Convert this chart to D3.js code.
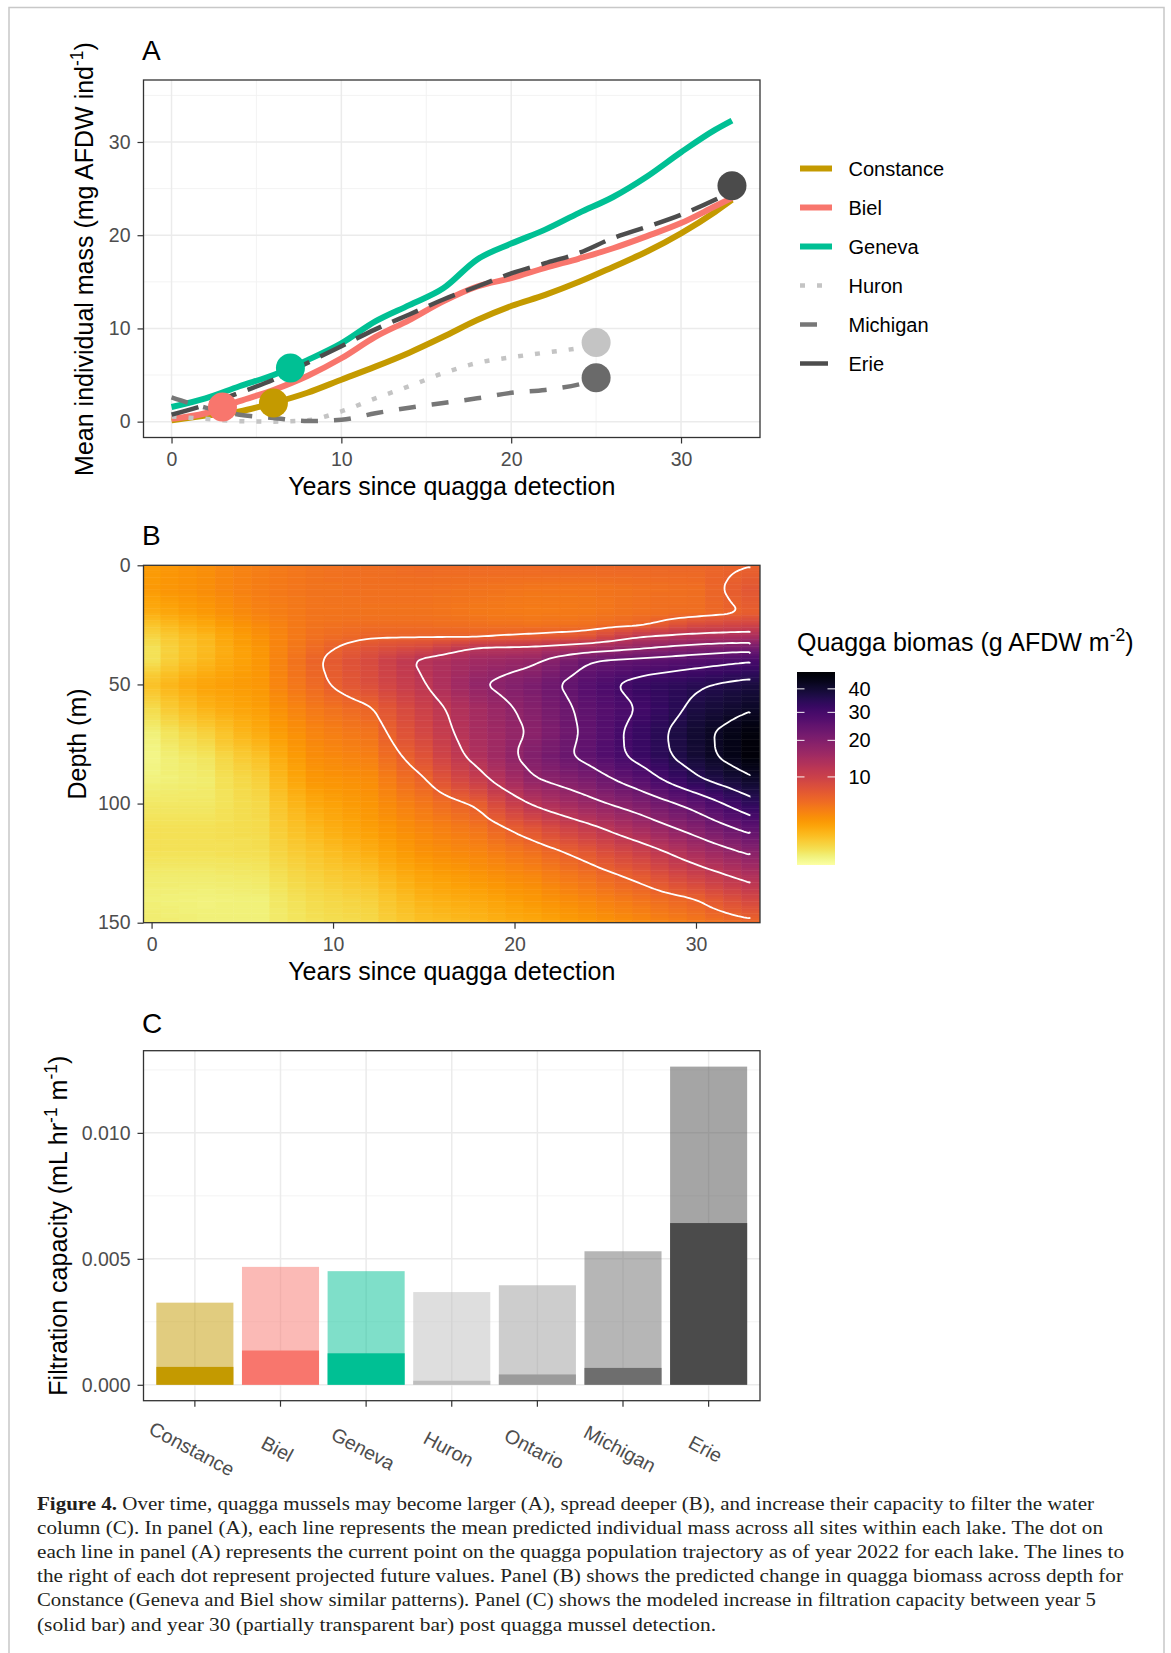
<!DOCTYPE html>
<html>
<head>
<meta charset="utf-8">
<script src="https://cdn.jsdelivr.net/npm/d3@7"></script>
<style>
  body { margin: 0; background: #fff; }
  svg text { font-family: "Liberation Sans", Arial, sans-serif; }
  svg text.cap { font-family: "Liberation Serif", "DejaVu Serif", serif; }
</style>
</head>
<body>
<svg id="fig" width="1171" height="1653"></svg>
<script>
// ---------- panel A : mean individual mass per lake ----------
const lakesA = ['Constance', 'Biel', 'Geneva', 'Huron', 'Michigan', 'Erie']
const yearsLong = [0, 2, 4, 6, 8, 10, 12, 14, 16, 18, 20, 22, 24, 26, 28, 30, 32, 33]
const yearsShort = [0, 2, 4, 6, 8, 10, 12, 14, 16, 18, 20, 22, 24, 25]
const massConstance = [0.15, 0.65, 1.1, 2.0, 3.1, 4.5, 5.9, 7.4, 9.1, 10.9, 12.4, 13.6, 15.0, 16.6, 18.25, 20.2, 22.5, 23.8]
const massBiel = [0.3, 0.9, 2.2, 3.4, 4.9, 6.8, 9.1, 10.9, 12.9, 14.5, 15.4, 16.5, 17.5, 18.6, 19.9, 21.3, 23.1, 24.0]
const massGeneva = [1.57, 2.5, 3.8, 5.0, 6.6, 8.4, 10.75, 12.5, 14.3, 17.4, 19.1, 20.6, 22.4, 24.1, 26.3, 28.9, 31.3, 32.3]
const massHuron = [0.55, 0.3, 0.05, 0, 0.15, 1.1, 2.5, 3.8, 5.2, 6.3, 6.9, 7.4, 7.9, 8.25]
const massMichigan = [2.6, 1.5, 0.75, 0.4, 0.07, 0.2, 0.9, 1.5, 2.0, 2.5, 3.1, 3.4, 4.0, 4.5]
const massErie = [0.75, 1.8, 3.1, 4.5, 6.3, 8.1, 9.9, 11.5, 13.1, 14.5, 15.9, 17.0, 18.1, 19.7, 20.9, 22.2, 23.8, 24.7]
// the dot = where each lake is in 2022
const nowYear = [6, 3, 7, 25, 25, 33]
const nowMass = [2.0, 1.57, 5.75, 8.5, 4.7, 25.3]

// ---------- panel B : biomass by depth (Constance) ----------
const bioYears = [0, 3, 6, 9, 12, 15, 18, 21, 24, 27, 30, 33]
const bioDepths = [0, 10, 20, 25, 30, 35, 40, 50, 60, 70, 80, 90, 100, 110, 120, 130, 140, 150]
// one row per year in bioYears, one value per depth in bioDepths (g AFDW m-2)
const biomass = [
  [2.3, 2.4, 1.6, 0.9, 0.5, 0.3, 0.3, 1.0, 0.4, 0.1, 0.05, 0.08, 0.2, 0.3, 0.3, 0.15, 0.1, 0.15],
  [3.0, 3.0, 2.4, 1.8, 1.3, 1.2, 1.3, 2.0, 1.4, 0.6, 0.25, 0.15, 0.2, 0.3, 0.3, 0.15, 0.08, 0.1],
  [4.0, 4.0, 3.6, 3.2, 2.8, 2.6, 2.5, 2.5, 2.2, 1.7, 1.0, 0.6, 0.45, 0.4, 0.35, 0.2, 0.1, 0.1],
  [4.6, 4.6, 4.5, 4.6, 4.8, 5.2, 5.7, 5.3, 4.2, 3.5, 3.0, 2.5, 1.8, 1.3, 0.9, 0.6, 0.4, 0.3],
  [5.0, 4.8, 4.6, 5.0, 5.8, 7.5, 8.5, 8.0, 5.7, 4.6, 3.8, 3.0, 2.6, 2.2, 1.6, 1.0, 0.6, 0.45],
  [5.3, 4.8, 4.6, 5.0, 5.9, 9.0, 12.8, 11.8, 10.0, 9.0, 7.5, 5.8, 4.3, 3.4, 2.8, 2.0, 1.4, 1.0],
  [5.3, 4.6, 4.2, 4.8, 6.0, 12.5, 15.5, 17.5, 15.0, 14.5, 13.5, 10.5, 6.4, 4.6, 3.5, 2.6, 1.8, 1.3],
  [5.4, 4.4, 4.0, 4.6, 6.5, 13.0, 17.0, 21.0, 19.5, 18.5, 20.0, 17.5, 12.4, 7.4, 4.8, 3.4, 2.5, 1.8],
  [5.5, 4.4, 4.2, 4.8, 7.2, 15.5, 23.5, 27.0, 25.5, 25.0, 25.5, 21.0, 16.5, 11.0, 7.0, 4.8, 3.4, 2.4],
  [5.6, 4.7, 4.8, 5.7, 12.0, 18.0, 25.5, 32.5, 30.5, 32.5, 32.0, 27.0, 20.5, 15.2, 10.2, 6.8, 4.6, 3.2],
  [5.6, 5.0, 5.0, 8.3, 13.5, 20.5, 27.5, 35.2, 37.5, 40.0, 39.5, 35.0, 26.0, 20.0, 14.5, 10.0, 6.0, 4.2],
  [5.95, 7.0, 6.2, 9.5, 14.0, 22.5, 29.5, 38.0, 41.5, 46.0, 46.5, 41.0, 34.0, 26.0, 19.0, 13.5, 9.0, 5.4]
]
const contourLevels = [6, 12, 18, 24, 30, 36, 42]
const bioTicks = [10, 20, 30, 40]

// ---------- panel C : filtration capacity ----------
const lakesC = ['Constance', 'Biel', 'Geneva', 'Huron', 'Ontario', 'Michigan', 'Erie']
const filtYear5 = [0.00071, 0.00136, 0.00125, 0.00016, 0.00041, 0.00067, 0.00642]
const filtYear30 = [0.00326, 0.00468, 0.00451, 0.00368, 0.00395, 0.0053, 0.01263]

const captionLines = [
  'Over time, quagga mussels may become larger (A), spread deeper (B), and increase their capacity to filter the water',
  'column (C). In panel (A), each line represents the mean predicted individual mass across all sites within each lake. The dot on',
  'each line in panel (A) represents the current point on the quagga population trajectory as of year 2022 for each lake. The lines to',
  'the right of each dot represent projected future values. Panel (B) shows the predicted change in quagga biomass across depth for',
  'Constance (Geneva and Biel show similar patterns). Panel (C) shows the modeled increase in filtration capacity between year 5',
  '(solid bar) and year 30 (partially transparent bar) post quagga mussel detection.'
]

const svg = d3.select('#fig')
svg.append('rect').attr('width', 1171).attr('height', 1653).attr('fill', '#fff')
svg.append('path')
  .attr('d', 'M9,1653 V7.5 H1164 V1653')
  .attr('fill', 'none').attr('stroke', '#c8c8c8').attr('stroke-width', 1.5)

const L = 143.5, R = 760
const gridCol = '#ebebeb'
const tickFont = 19.5

function styleAxis(g) {
  g.select('.domain').remove()
  g.attr('font-size', tickFont).attr('font-family', null)
  g.selectAll('.tick line').attr('stroke', '#333').attr('stroke-width', 1.2)
  g.selectAll('.tick text').attr('fill', '#4d4d4d')
}

// text with superscripts: parts like ['Mean (mg ind', '^-1', ')']
function richText(sel, parts, size) {
  let up = false
  parts.forEach(p => {
    if (p[0] === '^') {
      sel.append('tspan').attr('font-size', size * 0.7).attr('dy', -size * 0.42).text(p.slice(1))
      up = true
    } else {
      sel.append('tspan').attr('dy', up ? size * 0.42 : 0).text(p)
      up = false
    }
  })
}

function panelLabel(txt, y) {
  svg.append('text').attr('x', 142).attr('y', y).attr('font-size', 28).text(txt)
}

// ================= PANEL A =================
const xA = d3.scaleLinear().domain([-1.65, 34.65]).range([L, R])
const yA = d3.scaleLinear().domain([-1.7, 36.65]).range([437.5, 80])
const gA = svg.append('g')

panelLabel('A', 60)

// grid
;[5, 15, 25].forEach(v => gA.append('line').attr('x1', xA(v)).attr('x2', xA(v)).attr('y1', 80).attr('y2', 437.5).attr('stroke', '#f2f2f2').attr('stroke-width', 0.9))
;[5, 15, 25, 35].forEach(v => gA.append('line').attr('x1', L).attr('x2', R).attr('y1', yA(v)).attr('y2', yA(v)).attr('stroke', '#f2f2f2').attr('stroke-width', 0.9))
;[0, 10, 20, 30].forEach(v => {
  gA.append('line').attr('x1', xA(v)).attr('x2', xA(v)).attr('y1', 80).attr('y2', 437.5).attr('stroke', gridCol).attr('stroke-width', 1.5)
  gA.append('line').attr('x1', L).attr('x2', R).attr('y1', yA(v)).attr('y2', yA(v)).attr('stroke', gridCol).attr('stroke-width', 1.5)
})

const seriesA = [
  { lake: 'Constance', years: yearsLong, mass: massConstance, color: '#C49A00', width: 6, dash: null },
  { lake: 'Biel', years: yearsLong, mass: massBiel, color: '#F8766D', width: 6, dash: null },
  { lake: 'Geneva', years: yearsLong, mass: massGeneva, color: '#00C094', width: 6, dash: null },
  { lake: 'Huron', years: yearsShort, mass: massHuron, color: '#c4c4c4', width: 4.5, dash: '5,12' },
  { lake: 'Michigan', years: yearsShort, mass: massMichigan, color: '#777777', width: 4.5, dash: '17,16' },
  { lake: 'Erie', years: yearsLong, mass: massErie, color: '#4d4d4d', width: 4.5, dash: '28,12' }
]

const lineA = d3.line().x(d => xA(d[0])).y(d => yA(d[1])).curve(d3.curveMonotoneX)
seriesA.forEach(s => {
  gA.append('path')
    .datum(d3.zip(s.years, s.mass))
    .attr('d', lineA)
    .attr('fill', 'none')
    .attr('stroke', s.color)
    .attr('stroke-width', s.width)
    .attr('stroke-dasharray', s.dash)
})
gA.selectAll('circle.now')
  .data(lakesA)
  .enter()
  .append('circle')
  .attr('class', 'now')
  .attr('cx', (d, i) => xA(nowYear[i]))
  .attr('cy', (d, i) => yA(nowMass[i]))
  .attr('r', 14.5)
  .attr('fill', (d, i) => i === 5 ? '#4b4b4b' : i === 4 ? '#6a6a6a' : seriesA[i].color)

gA.append('rect').attr('x', L).attr('y', 80).attr('width', R - L).attr('height', 357.5)
  .attr('fill', 'none').attr('stroke', '#333').attr('stroke-width', 1.3)

gA.append('g').attr('transform', 'translate(0,437.5)')
  .call(d3.axisBottom(xA).tickValues([0, 10, 20, 30]).tickSize(6).tickPadding(9))
  .call(styleAxis)
gA.append('g').attr('transform', `translate(${L},0)`)
  .call(d3.axisLeft(yA).tickValues([0, 10, 20, 30]).tickSize(6).tickPadding(7))
  .call(styleAxis)

gA.append('text').attr('x', (L + R) / 2).attr('y', 495).attr('text-anchor', 'middle').attr('font-size', 25)
  .text('Years since quagga detection')
richText(
  gA.append('text').attr('transform', 'translate(93,259) rotate(-90)').attr('text-anchor', 'middle').attr('font-size', 25),
  ['Mean individual mass (mg AFDW ind', '^-1', ')'], 25)

// legend
const legA = gA.append('g')
seriesA.forEach((s, i) => {
  const y = 168.5 + i * 39
  legA.append('line').attr('x1', 800).attr('x2', 832).attr('y1', y).attr('y2', y)
    .attr('stroke', s.color).attr('stroke-width', s.width).attr('stroke-dasharray', s.dash)
  legA.append('text').attr('x', 848.5).attr('y', y + 7).attr('font-size', 20).text(s.lake)
})

// ================= PANEL B =================
const topB = 565.3, botB = 922.7
const xB = d3.scaleLinear().domain([-0.5, 33.5]).range([142.5, 759.5])
const yB = d3.scaleLinear().domain([0, 150]).range([topB, botB])
const fillB = d3.scaleSequentialSqrt(t => d3.interpolateInferno(1 - t)).domain([0, 48])

function locate(xs, x) {
  let i = d3.bisectRight(xs, x) - 1
  i = Math.max(0, Math.min(xs.length - 2, i))
  const t = Math.max(0, Math.min(1, (x - xs[i]) / (xs[i + 1] - xs[i])))
  return [i, t]
}
function bioAt(yr, dep) {
  const [i, tx] = locate(bioYears, yr)
  const [j, ty] = locate(bioDepths, dep)
  const a = biomass[i][j], b = biomass[i + 1][j], c = biomass[i][j + 1], d = biomass[i + 1][j + 1]
  return (a * (1 - tx) + b * tx) * (1 - ty) + (c * (1 - tx) + d * tx) * ty
}

panelLabel('B', 545)
svg.append('clipPath').attr('id', 'clipB').append('rect')
  .attr('x', 143.5).attr('y', topB).attr('width', R - L).attr('height', botB - topB)
const gB = svg.append('g')
const tiles = gB.append('g').attr('clip-path', 'url(#clipB)')
const cells = []
d3.range(0, 34).forEach(yr => d3.range(0, 150).forEach(dep => cells.push([yr, dep])))
tiles.selectAll('rect')
  .data(cells)
  .enter()
  .append('rect')
  .attr('x', d => xB(d[0] - 0.5))
  .attr('y', d => yB(d[1]))
  .attr('width', xB(1) - xB(0) + 0.5)
  .attr('height', yB(1) - yB(0) + 0.5)
  .attr('fill', d => fillB(bioAt(d[0], d[1] + 0.5)))

// contour lines
const stepX = 0.25, nx = 133, ny = 151
const field = new Array(nx * ny)
for (let j = 0; j < ny; j++) for (let i = 0; i < nx; i++) field[j * nx + i] = bioAt(i * stepX, j)
const contours = d3.contours().size([nx, ny]).thresholds(contourLevels)(field)
const onEdge = p => p[0] <= 0 || p[0] >= nx || p[1] <= 0 || p[1] >= ny
const toPx = p => {
  const yr = Math.max(0, Math.min(33, (p[0] - 0.5) * stepX))
  const dep = Math.max(0, Math.min(150, p[1] - 0.5))
  return [xB(yr), yB(dep)]
}
// soften the kinks left by the coarse grid (moving average, ends kept)
function soften(pts, w) {
  return pts.map((p, k) => {
    if (k === 0 || k === pts.length - 1) return p
    const lo = Math.max(0, k - w), hi = Math.min(pts.length - 1, k + w)
    const n = Math.min(k - lo, hi - k)
    const seg = pts.slice(k - n, k + n + 1)
    return [d3.mean(seg, q => q[0]), d3.mean(seg, q => q[1])]
  })
}
const contourLine = d3.line()
contours.forEach(c => {
  c.coordinates.forEach(poly => poly.forEach(ring => {
    const runs = []
    let cur = null
    for (let k = 0; k < ring.length - 1; k++) {
      const a = ring[k], b = ring[k + 1]
      if (onEdge(a) && onEdge(b)) { cur = null; continue }
      if (!cur) { cur = [toPx(a)]; runs.push(cur) }
      cur.push(toPx(b))
    }
    runs.forEach(run => {
      tiles.append('path').attr('d', contourLine(soften(run, 4)))
        .attr('fill', 'none').attr('stroke', '#fff').attr('stroke-width', 1.8)
    })
  }))
})

gB.append('rect').attr('x', L).attr('y', topB).attr('width', R - L).attr('height', botB - topB)
  .attr('fill', 'none').attr('stroke', '#333').attr('stroke-width', 1.3)
gB.append('g').attr('transform', `translate(0,${botB})`)
  .call(d3.axisBottom(xB).tickValues([0, 10, 20, 30]).tickSize(6).tickPadding(8))
  .call(styleAxis)
gB.append('g').attr('transform', `translate(${L},0)`)
  .call(d3.axisLeft(yB).tickValues([0, 50, 100, 150]).tickSize(6).tickPadding(7))
  .call(styleAxis)
gB.append('text').attr('x', (L + R) / 2).attr('y', 980).attr('text-anchor', 'middle').attr('font-size', 25)
  .text('Years since quagga detection')
gB.append('text').attr('transform', `translate(86,${(topB + botB) / 2}) rotate(-90)`).attr('text-anchor', 'middle')
  .attr('font-size', 25).text('Depth (m)')

// colour bar
const cbY = d3.scaleSqrt().domain([0, 48]).range([865, 672])
const grad = svg.append('defs').append('linearGradient').attr('id', 'cbGrad')
  .attr('x1', 0).attr('x2', 0).attr('y1', 0).attr('y2', 1)
d3.range(0, 41).forEach(k => {
  const y = 672 + 193 * k / 40
  grad.append('stop').attr('offset', k / 40).attr('stop-color', fillB(cbY.invert(y)))
})
gB.append('rect').attr('x', 797).attr('y', 672).attr('width', 38).attr('height', 193).attr('fill', 'url(#cbGrad)')
bioTicks.forEach(v => {
  gB.append('line').attr('x1', 797).attr('x2', 804.5).attr('y1', cbY(v)).attr('y2', cbY(v)).attr('stroke', '#fff').attr('stroke-opacity', 0.8).attr('stroke-width', 1.2)
  gB.append('line').attr('x1', 827.5).attr('x2', 835).attr('y1', cbY(v)).attr('y2', cbY(v)).attr('stroke', '#fff').attr('stroke-opacity', 0.8).attr('stroke-width', 1.2)
  gB.append('text').attr('x', 848.5).attr('y', cbY(v) + 7).attr('font-size', 20).text(v)
})
richText(gB.append('text').attr('x', 797).attr('y', 651).attr('font-size', 25),
  ['Quagga biomas (g AFDW m', '^-2', ')'], 25)

// ================= PANEL C =================
const topC = 1050.7, botC = 1400.7
const xC = d3.scaleBand().domain(lakesC).range([L, R]).paddingInner(0.1).paddingOuter(0.15)
const yC = d3.scaleLinear().domain([-0.000632, 0.013262]).range([botC, topC])
const colC = ['#C49A00', '#F8766D', '#00C094', '#bebebe', '#9b9b9b', '#6e6e6e', '#4b4b4b']
const gC = svg.append('g')
panelLabel('C', 1033)

;[0.0025, 0.0075, 0.0125].forEach(v => gC.append('line').attr('x1', L).attr('x2', R).attr('y1', yC(v)).attr('y2', yC(v)).attr('stroke', '#f2f2f2').attr('stroke-width', 0.9))
;[0, 0.005, 0.01].forEach(v => gC.append('line').attr('x1', L).attr('x2', R).attr('y1', yC(v)).attr('y2', yC(v)).attr('stroke', gridCol).attr('stroke-width', 1.5))
lakesC.forEach(l => {
  const cx = xC(l) + xC.bandwidth() / 2
  gC.append('line').attr('x1', cx).attr('x2', cx).attr('y1', topC).attr('y2', botC).attr('stroke', gridCol).attr('stroke-width', 1.5)
})

gC.selectAll('rect.y30')
  .data(lakesC)
  .enter()
  .append('rect')
  .attr('class', 'y30')
  .attr('x', d => xC(d))
  .attr('width', xC.bandwidth())
  .attr('y', (d, i) => yC(filtYear30[i]))
  .attr('height', (d, i) => yC(0) - yC(filtYear30[i]))
  .attr('fill', (d, i) => colC[i])
  .attr('fill-opacity', 0.5)
gC.selectAll('rect.y5')
  .data(lakesC)
  .enter()
  .append('rect')
  .attr('class', 'y5')
  .attr('x', d => xC(d))
  .attr('width', xC.bandwidth())
  .attr('y', (d, i) => yC(filtYear5[i]))
  .attr('height', (d, i) => yC(0) - yC(filtYear5[i]))
  .attr('fill', (d, i) => colC[i])

gC.append('rect').attr('x', L).attr('y', topC).attr('width', R - L).attr('height', botC - topC)
  .attr('fill', 'none').attr('stroke', '#333').attr('stroke-width', 1.3)

const xAxisC = gC.append('g').attr('transform', `translate(0,${botC})`)
  .call(d3.axisBottom(xC).tickSize(6).tickPadding(9))
  .call(styleAxis)
xAxisC.selectAll('.tick text')
  .attr('y', 0).attr('dy', null)
  .attr('text-anchor', 'middle')
  .attr('dominant-baseline', 'central')
  .attr('transform', 'translate(-3,48) rotate(28)')
gC.append('g').attr('transform', `translate(${L},0)`)
  .call(d3.axisLeft(yC).tickValues([0, 0.005, 0.01]).tickFormat(d3.format('.3f')).tickSize(6).tickPadding(7))
  .call(styleAxis)
richText(
  gC.append('text').attr('transform', `translate(67,${(topC + botC) / 2}) rotate(-90)`).attr('text-anchor', 'middle').attr('font-size', 25),
  ['Filtration capacity (mL hr', '^-1', ' m', '^-1', ')'], 25)

// ================= caption =================
const capEnds = [1094, 1103, 1124, 1123, 1096, 716]
captionLines.forEach((line, i) => {
  const t = svg.append('text').attr('class', 'cap')
    .attr('x', 37).attr('y', 1510 + i * 24.1)
    .attr('font-size', 19).attr('fill', '#231f20')
    .attr('textLength', capEnds[i] - 37).attr('lengthAdjust', 'spacingAndGlyphs')
  if (i === 0) t.append('tspan').attr('font-weight', 'bold').text('Figure 4. ')
  t.append('tspan').text(line)
})
</script>
</body>
</html>
